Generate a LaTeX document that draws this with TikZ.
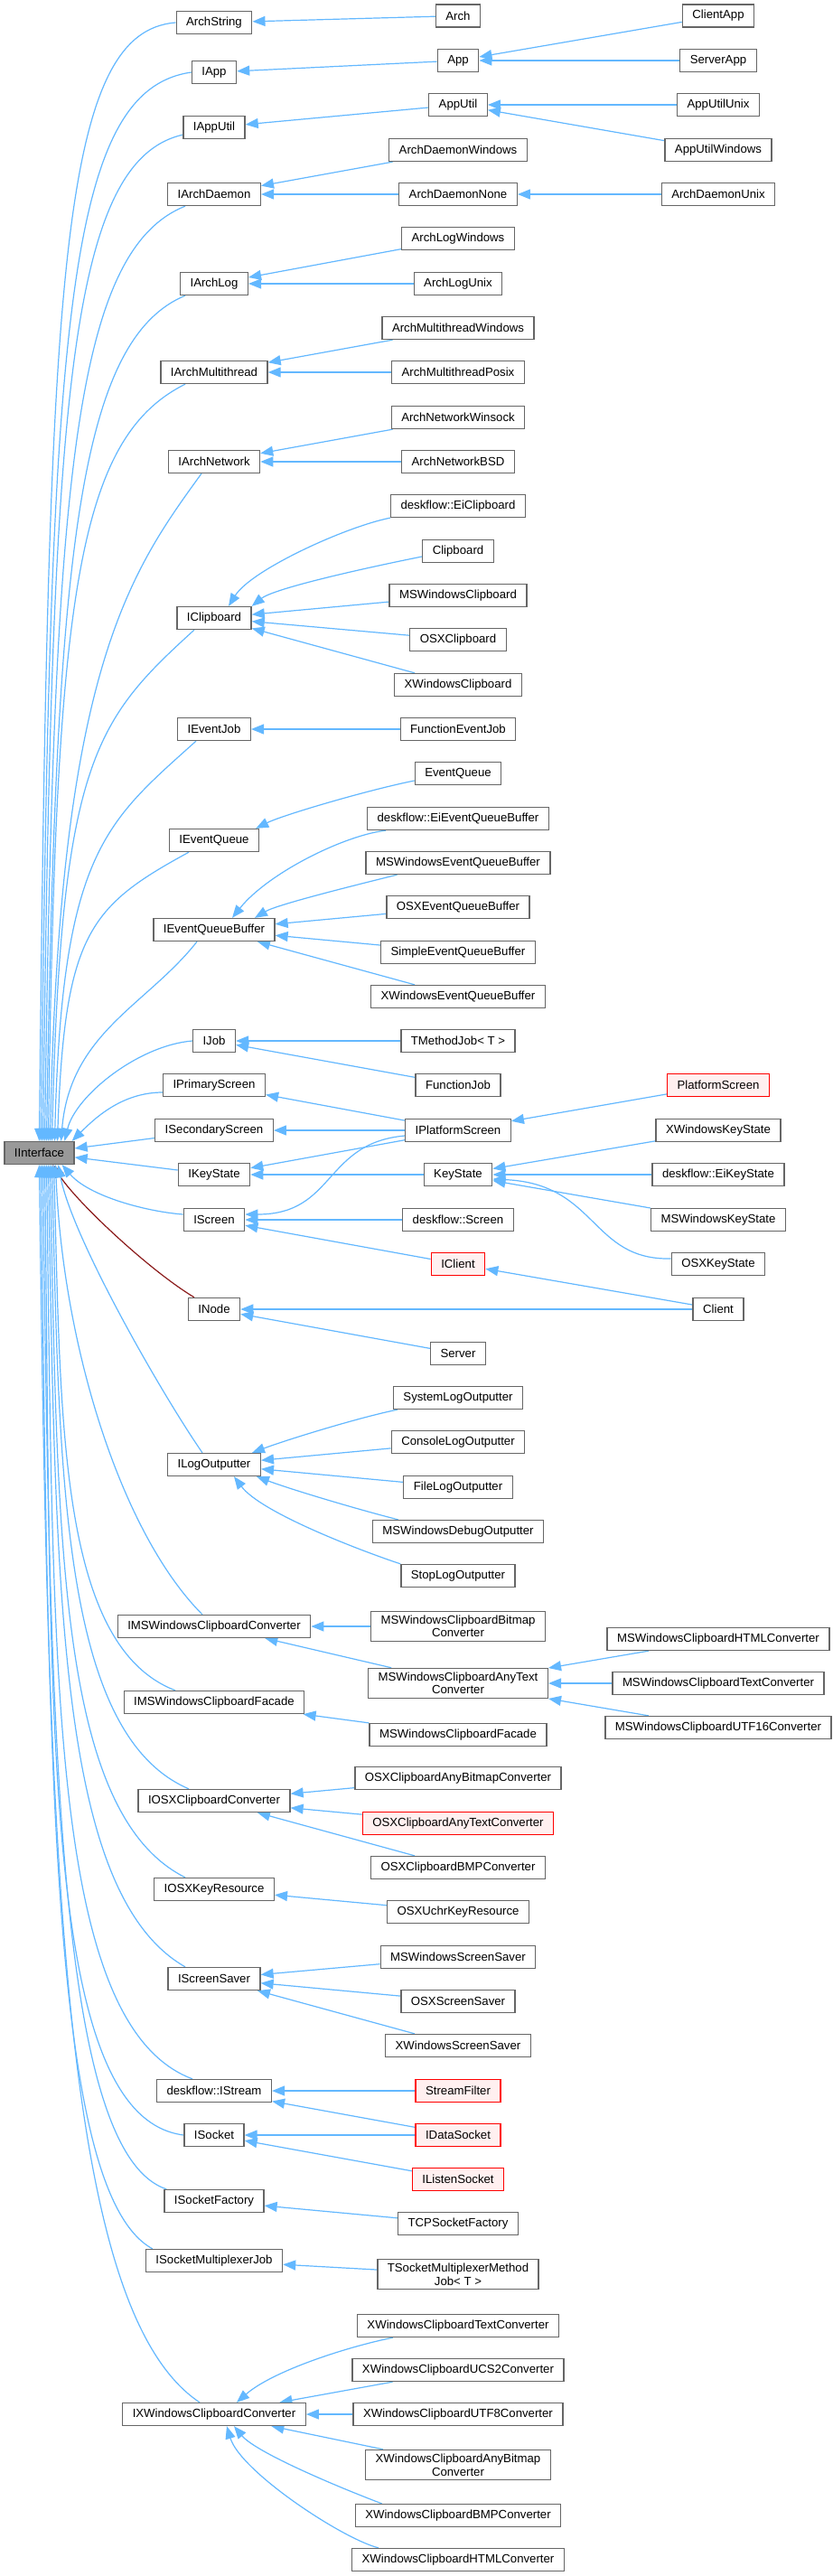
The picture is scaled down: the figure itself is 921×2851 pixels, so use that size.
\documentclass[tikz,border=0pt]{standalone}
\usepackage{fontspec}
\setmainfont{Liberation Sans}
\usetikzlibrary{arrows.meta}
\definecolor{edgeblue}{HTML}{63B8FF}
\definecolor{boxgray}{HTML}{666666}
\definecolor{privred}{HTML}{8B1A1A}
\definecolor{redfill}{HTML}{FFF0F0}
\definecolor{iifill}{HTML}{999999}
\pgfdeclarelayer{back}
\pgfdeclarelayer{bg}
\pgfsetlayers{back,bg,main}
\tikzset{
 cls/.style={draw=boxgray, fill=white, line width=1.3pt, font=\fontsize{13.2}{14.5}\selectfont,
   inner xsep=11pt, inner ysep=4.5pt, minimum height=25pt, align=center, text=black},
 redcls/.style={cls, draw=red, fill=redfill},
 rootcls/.style={cls, fill=iifill},
 edge/.style={draw=edgeblue, line width=1.2pt, -{Triangle[length=14pt,width=11pt]}},
 privedge/.style={edge, draw=privred},
}
\begin{document}
\begin{tikzpicture}[x=1pt,y=-1pt]
\begin{pgfonlayer}{back}
\fill[white] (0,0) rectangle (921,2851);
\end{pgfonlayer}
\useasboundingbox (0,0) rectangle (921,2851);

% root
\node[rootcls] (II) at (43.5,1276) {IInterface};

% rows
\node[cls] (ArchString) at (237,25) {ArchString};
\node[cls] (Arch) at (507,17.5) {Arch};
\node[cls] (ClientApp) at (795,17.5) {ClientApp};
\node[cls] (App) at (507,67) {App};
\node[cls] (ServerApp) at (795,67) {ServerApp};
\node[cls] (IApp) at (237,80) {IApp};
\node[cls] (AppUtil) at (507,116) {AppUtil};
\node[cls] (AppUtilUnix) at (795,116) {AppUtilUnix};
\node[cls] (IAppUtil) at (237,141) {IAppUtil};
\node[cls] (ArchDaemonWindows) at (507,166) {ArchDaemonWindows};
\node[cls] (AppUtilWindows) at (795,166) {AppUtilWindows};
\node[cls] (IArchDaemon) at (237,215) {IArchDaemon};
\node[cls] (ArchDaemonNone) at (507,215) {ArchDaemonNone};
\node[cls] (ArchDaemonUnix) at (795,215) {ArchDaemonUnix};
\node[cls] (ArchLogWindows) at (507,264) {ArchLogWindows};
\node[cls] (IArchLog) at (237,314) {IArchLog};
\node[cls] (ArchLogUnix) at (507,314) {ArchLogUnix};
\node[cls] (ArchMTWindows) at (507,363) {ArchMultithreadWindows};
\node[cls] (IArchMultithread) at (237,412) {IArchMultithread};
\node[cls] (ArchMTPosix) at (507,412) {ArchMultithreadPosix};
\node[cls] (ArchNetworkWinsock) at (507,462) {ArchNetworkWinsock};
\node[cls] (IArchNetwork) at (237,511) {IArchNetwork};
\node[cls] (ArchNetworkBSD) at (507,511) {ArchNetworkBSD};
\node[cls] (EiClipboard) at (507,560) {deskflow::EiClipboard};
\node[cls] (Clipboard) at (507,610) {Clipboard};
\node[cls] (MSWindowsClipboard) at (507,659) {MSWindowsClipboard};
\node[cls] (IClipboard) at (237,684) {IClipboard};
\node[cls] (OSXClipboard) at (507,708) {OSXClipboard};
\node[cls] (XWindowsClipboard) at (507,758) {XWindowsClipboard};
\node[cls] (IEventJob) at (237,807) {IEventJob};
\node[cls] (FunctionEventJob) at (507,807) {FunctionEventJob};
\node[cls] (EventQueue) at (507,856) {EventQueue};
\node[cls] (EiEQB) at (507,906) {deskflow::EiEventQueueBuffer};
\node[cls] (IEventQueue) at (237,930) {IEventQueue};
\node[cls] (MSWEQB) at (507,955) {MSWindowsEventQueueBuffer};
\node[cls] (OSXEQB) at (507,1004) {OSXEventQueueBuffer};
\node[cls] (IEQB) at (237,1029) {IEventQueueBuffer};
\node[cls] (SimpleEQB) at (507,1054) {SimpleEventQueueBuffer};
\node[cls] (XWEQB) at (507,1103) {XWindowsEventQueueBuffer};
\node[cls] (IJob) at (237,1152) {IJob};
\node[cls] (TMethodJob) at (507,1152) {TMethodJob< T >};
\node[cls] (IPrimaryScreen) at (237,1201) {IPrimaryScreen};
\node[cls] (FunctionJob) at (507,1201) {FunctionJob};
\node[redcls] (PlatformScreen) at (795,1201) {PlatformScreen};
\node[cls] (ISecondaryScreen) at (237,1251) {ISecondaryScreen};
\node[cls] (IPlatformScreen) at (507,1251) {IPlatformScreen};
\node[cls] (XWindowsKeyState) at (795,1251) {XWindowsKeyState};
\node[cls] (IKeyState) at (237,1300) {IKeyState};
\node[cls] (KeyState) at (507,1300) {KeyState};
\node[cls] (EiKeyState) at (795,1300) {deskflow::EiKeyState};
\node[cls] (IScreen) at (237,1350) {IScreen};
\node[cls] (dfScreen) at (507,1350) {deskflow::Screen};
\node[cls] (MSWindowsKeyState) at (795,1350) {MSWindowsKeyState};
\node[redcls] (IClient) at (507,1399) {IClient};
\node[cls] (OSXKeyState) at (795,1399) {OSXKeyState};
\node[cls] (INode) at (237,1449) {INode};
\node[cls] (Client) at (795,1449) {Client};
\node[cls] (Server) at (507,1498) {Server};
\node[cls] (SystemLO) at (507,1547) {SystemLogOutputter};
\node[cls] (ConsoleLO) at (507,1596) {ConsoleLogOutputter};
\node[cls] (ILogOutputter) at (237,1621) {ILogOutputter};
\node[cls] (FileLO) at (507,1646) {FileLogOutputter};
\node[cls] (MSWDebugO) at (507,1695) {MSWindowsDebugOutputter};
\node[cls] (StopLO) at (507,1744) {StopLogOutputter};
\node[cls] (IMSWCC) at (237,1800) {IMSWindowsClipboardConverter};
\node[cls] (MSWCBitmap) at (507,1800) {MSWindowsClipboardBitmap\\Converter};
\node[cls] (MSWCHTML) at (795,1814) {MSWindowsClipboardHTMLConverter};
\node[cls] (MSWCAnyText) at (507,1863) {MSWindowsClipboardAnyText\\Converter};
\node[cls] (MSWCText) at (795,1863) {MSWindowsClipboardTextConverter};
\node[cls] (IMSWCF) at (237,1884) {IMSWindowsClipboardFacade};
\node[cls] (MSWCUTF16) at (795,1912) {MSWindowsClipboardUTF16Converter};
\node[cls] (MSWCFacade) at (507,1920) {MSWindowsClipboardFacade};
\node[cls] (OSXAnyBitmap) at (507,1968) {OSXClipboardAnyBitmapConverter};
\node[cls] (IOSXCC) at (237,1993) {IOSXClipboardConverter};
\node[redcls] (OSXAnyText) at (507,2018) {OSXClipboardAnyTextConverter};
\node[cls] (OSXBMP) at (507,2067) {OSXClipboardBMPConverter};
\node[cls] (IOSXKR) at (237,2091) {IOSXKeyResource};
\node[cls] (OSXUchr) at (507,2116) {OSXUchrKeyResource};
\node[cls] (MSWSS) at (507,2166) {MSWindowsScreenSaver};
\node[cls] (ISS) at (237,2190) {IScreenSaver};
\node[cls] (OSXSS) at (507,2215) {OSXScreenSaver};
\node[cls] (XWSS) at (507,2264) {XWindowsScreenSaver};
\node[cls] (IStream) at (237,2314) {deskflow::IStream};
\node[redcls] (StreamFilter) at (507,2314) {StreamFilter};
\node[cls] (ISocket) at (237,2363) {ISocket};
\node[redcls] (IDataSocket) at (507,2363) {IDataSocket};
\node[redcls] (IListenSocket) at (507,2412) {IListenSocket};
\node[cls] (ISF) at (237,2436) {ISocketFactory};
\node[cls] (TCPSF) at (507,2461) {TCPSocketFactory};
\node[cls] (ISMJ) at (237,2502) {ISocketMultiplexerJob};
\node[cls] (TSMMJ) at (507,2517) {TSocketMultiplexerMethod\\Job< T >};
\node[cls] (XWCText) at (507,2574) {XWindowsClipboardTextConverter};
\node[cls] (XWCUCS2) at (507,2623) {XWindowsClipboardUCS2Converter};
\node[cls] (IXWCC) at (237,2672) {IXWindowsClipboardConverter};
\node[cls] (XWCUTF8) at (507,2672) {XWindowsClipboardUTF8Converter};
\node[cls] (XWCAnyBitmap) at (507,2728) {XWindowsClipboardAnyBitmap\\Converter};
\node[cls] (XWCBMP) at (507,2784) {XWindowsClipboardBMPConverter};
\node[cls] (XWCHTML) at (507,2833) {XWindowsClipboardHTMLConverter};

\begin{pgfonlayer}{bg}
% ---- edges into IInterface (from above)
\draw[edge] (ArchString.west) .. controls +(-130,10) and +(10,-950) .. ([xshift=0pt]II.north);
\draw[edge] (IApp.west) .. controls +(-140,20) and +(10,-900) .. ([xshift=2pt]II.north);
\draw[edge] ([yshift=5pt]IAppUtil.south west) .. controls +(-130,30) and +(10,-800) .. ([xshift=4pt]II.north);
\draw[edge] ([xshift=-32pt]IArchDaemon.south) .. controls +(-125,50) and +(10,-720) .. ([xshift=6pt]II.north);
\draw[edge] ([xshift=-32pt]IArchLog.south) .. controls +(-120,50) and +(10,-640) .. ([xshift=8pt]II.north);
\draw[edge] ([xshift=-32pt]IArchMultithread.south) .. controls +(-120,60) and +(8,-600) .. ([xshift=10pt]II.north);
\draw[edge] ([xshift=-14pt]IArchNetwork.south) .. controls +(-80,110) and +(10,-520) .. ([xshift=12pt]II.north);
\draw[edge] ([xshift=-22pt]IClipboard.south) .. controls +(-110,100) and +(10,-420) .. ([xshift=14pt]II.north);
\draw[edge] ([xshift=-20pt]IEventJob.south) .. controls +(-100,90) and +(8,-320) .. ([xshift=17pt]II.north);
\draw[edge] ([xshift=-28pt]IEventQueue.south) .. controls +(-110,60) and +(8,-230) .. ([xshift=20pt]II.north);
\draw[edge] ([xshift=-19pt]IEQB.south) .. controls +(-55,70) and +(10,-120) .. ([xshift=24pt]II.north);
\draw[edge] (IJob.west) .. controls +(-60,5) and +(12,-50) .. ([xshift=28pt]II.north);
\draw[edge] ([yshift=-8pt]IPrimaryScreen.west) .. controls +(-45,0) and +(25,-25) .. ([xshift=-3pt]II.north east);
\draw[edge] (ISecondaryScreen) -- (II);
\draw[edge] (IKeyState) -- (II);
\draw[edge] ([yshift=6pt]IScreen.west) .. controls +(-40,-3) and +(30,35) .. ([xshift=-14pt]II.south east);
\draw[privedge] ([xshift=-22pt]INode.north) .. controls +(-50,-30) and +(25,40) .. ([xshift=15pt]II.south);
% ---- edges into IInterface (from below)
\draw[edge] ([xshift=-13pt]ILogOutputter.north) .. controls +(-45,-65) and +(15,80) .. ([xshift=21pt]II.south);
\draw[edge] ([xshift=-13pt]IMSWCC.north) .. controls +(-90,-90) and +(8,200) .. ([xshift=18pt]II.south);
\draw[edge] ([xshift=-43pt]IMSWCF.north) .. controls +(-130,-50) and +(8,280) .. ([xshift=16pt]II.south);
\draw[edge] ([xshift=-28pt]IOSXCC.north) .. controls +(-140,-60) and +(8,350) .. ([xshift=14pt]II.south);
\draw[edge] ([xshift=-32pt]IOSXKR.north) .. controls +(-140,-70) and +(8,420) .. ([xshift=12pt]II.south);
\draw[edge] ([xshift=-32pt]ISS.north) .. controls +(-140,-80) and +(8,480) .. ([xshift=10pt]II.south);
\draw[edge] ([xshift=-24pt]IStream.north) .. controls +(-160,-60) and +(8,550) .. ([xshift=8pt]II.south);
\draw[edge] (ISocket.west) .. controls +(-160,-20) and +(8,600) .. ([xshift=6pt]II.south);
\draw[edge] ([xshift=3pt]ISF.north west) .. controls +(-120,-40) and +(8,650) .. ([xshift=4pt]II.south);
\draw[edge] ([xshift=8pt]ISMJ.north west) .. controls +(-110,-60) and +(8,700) .. ([xshift=2pt]II.south);
\draw[edge] ([xshift=-16pt]IXWCC.north) .. controls +(-150,-100) and +(10,800) .. ([xshift=0pt]II.south);

% ---- other edges
\draw[edge] (Arch) -- (ArchString);
\draw[edge] (ClientApp) -- (App);
\draw[edge] (ServerApp) -- (App);
\draw[edge] (App) -- (IApp);
\draw[edge] (AppUtilUnix) -- (AppUtil);
\draw[edge] (AppUtilWindows) -- (AppUtil);
\draw[edge] (AppUtil) -- (IAppUtil);
\draw[edge] (ArchDaemonWindows) -- (IArchDaemon);
\draw[edge] (ArchDaemonNone) -- (IArchDaemon);
\draw[edge] (ArchDaemonUnix) -- (ArchDaemonNone);
\draw[edge] (ArchLogWindows) -- (IArchLog);
\draw[edge] (ArchLogUnix) -- (IArchLog);
\draw[edge] (ArchMTWindows) -- (IArchMultithread);
\draw[edge] (ArchMTPosix) -- (IArchMultithread);
\draw[edge] (ArchNetworkWinsock) -- (IArchNetwork);
\draw[edge] (ArchNetworkBSD) -- (IArchNetwork);
\draw[edge] (EiClipboard.south west) .. controls +(-50,10) and +(25,-40) .. ([xshift=16pt]IClipboard.north);
\draw[edge] ([yshift=-6pt]Clipboard.west) .. controls +(-60,12) and +(25,-20) .. (IClipboard.north east);
\draw[edge] (MSWindowsClipboard) -- (IClipboard);
\draw[edge] (OSXClipboard) -- (IClipboard);
\draw[edge] (XWindowsClipboard) -- (IClipboard);
\draw[edge] (FunctionEventJob) -- (IEventJob);
\draw[edge] ([yshift=-8pt]EventQueue.west) .. controls +(-50,10) and +(30,-15) .. ([xshift=-4pt]IEventQueue.north east);
\draw[edge] ([xshift=21pt]EiEQB.south west) .. controls +(-45,5) and +(40,-50) .. ([xshift=20pt]IEQB.north);
\draw[edge] ([xshift=35pt]MSWEQB.south west) .. controls +(-40,10) and +(25,-15) .. ([xshift=45pt]IEQB.north);
\draw[edge] (OSXEQB) -- (IEQB);
\draw[edge] (SimpleEQB) -- (IEQB);
\draw[edge] (XWEQB) -- (IEQB);
\draw[edge] (TMethodJob) -- (IJob);
\draw[edge] (FunctionJob) -- (IJob);
\draw[edge] (IPlatformScreen) -- (IPrimaryScreen);
\draw[edge] (PlatformScreen) -- (IPlatformScreen);
\draw[edge] (IPlatformScreen) -- (ISecondaryScreen);
\draw[edge] (IPlatformScreen) -- (IKeyState);
\draw[edge] ([yshift=-6pt]IPlatformScreen.west) .. controls +(-90,8) and +(100,0) .. ([yshift=6pt]IScreen.east);
\draw[edge] (KeyState) -- (IKeyState);
\draw[edge] (XWindowsKeyState) -- (KeyState);
\draw[edge] (EiKeyState) -- (KeyState);
\draw[edge] (MSWindowsKeyState) -- (KeyState);
\draw[edge] ([yshift=6pt]OSXKeyState.west) .. controls +(-89,2) and +(116,5) .. ([yshift=-5pt]KeyState.east);
\draw[edge] (dfScreen) -- (IScreen);
\draw[edge] (IClient) -- (IScreen);
\draw[edge] (Client) -- (IClient);
\draw[edge] (Client) -- (INode);
\draw[edge] (Server) -- (INode);
\draw[edge] ([xshift=5pt]SystemLO.south west) .. controls +(-40,8) and +(40,-15) .. ([xshift=-10pt]ILogOutputter.north east);
\draw[edge] (ConsoleLO) -- (ILogOutputter);
\draw[edge] (FileLO) -- (ILogOutputter);
\draw[edge] ([xshift=29pt]MSWDebugO.north west) .. controls +(-40,-10) and +(40,15) .. ([xshift=-5pt]ILogOutputter.south east);
\draw[edge] (StopLO.north west) .. controls +(-45,-15) and +(30,40) .. ([xshift=22pt]ILogOutputter.south);
\draw[edge] (MSWCBitmap) -- (IMSWCC);
\draw[edge] (MSWCAnyText) -- (IMSWCC);
\draw[edge] (MSWCHTML) -- (MSWCAnyText);
\draw[edge] (MSWCText) -- (MSWCAnyText);
\draw[edge] (MSWCUTF16) -- (MSWCAnyText);
\draw[edge] (MSWCFacade) -- (IMSWCF);
\draw[edge] (OSXAnyBitmap) -- (IOSXCC);
\draw[edge] (OSXAnyText) -- (IOSXCC);
\draw[edge] (OSXBMP) -- (IOSXCC);
\draw[edge] (OSXUchr) -- (IOSXKR);
\draw[edge] (MSWSS) -- (ISS);
\draw[edge] (OSXSS) -- (ISS);
\draw[edge] (XWSS) -- (ISS);
\draw[edge] (StreamFilter) -- (IStream);
\draw[edge] (IDataSocket) -- (IStream);
\draw[edge] (IDataSocket) -- (ISocket);
\draw[edge] (IListenSocket) -- (ISocket);
\draw[edge] (TCPSF) -- (ISF);
\draw[edge] (TSMMJ) -- (ISMJ);
\draw[edge] ([xshift=40pt]XWCText.south west) .. controls +(-50,10) and +(40,-35) .. ([xshift=25pt]IXWCC.north);
\draw[edge] (XWCUCS2) -- (IXWCC);
\draw[edge] (XWCUTF8) -- (IXWCC);
\draw[edge] (XWCAnyBitmap) -- (IXWCC);
\draw[edge] ([xshift=30pt]XWCBMP.north west) .. controls +(-40,-15) and +(25,30) .. ([xshift=22pt]IXWCC.south);
\draw[edge] ([xshift=30pt]XWCHTML.north west) .. controls +(-40,-10) and +(15,50) .. ([xshift=14pt]IXWCC.south);
\end{pgfonlayer}
\end{tikzpicture}
\end{document}
